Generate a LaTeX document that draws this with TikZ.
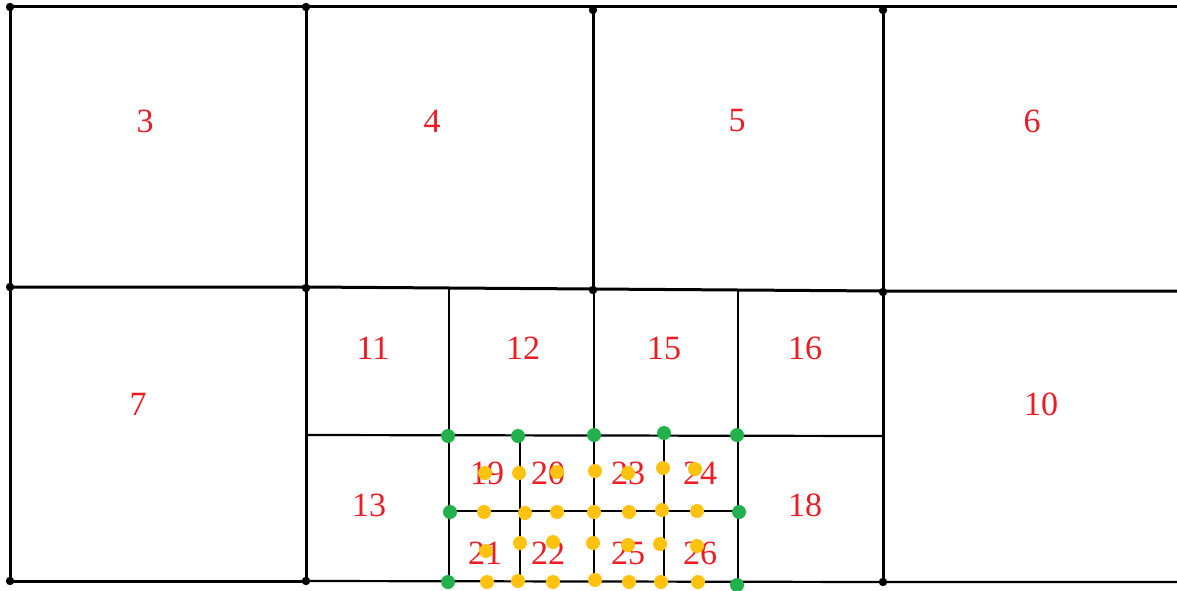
\documentclass[tikz,border=0pt]{standalone}
\usepackage{fontspec}
\setmainfont{Liberation Serif}
\definecolor{pred}{RGB}{237,28,36}
\definecolor{pgreen}{RGB}{34,177,76}
\definecolor{pyellow}{RGB}{255,194,14}
\begin{document}
\begin{tikzpicture}[x=1pt,y=-1pt,
  mainline/.style={line width=3pt,black},
  innerline/.style={line width=2.2pt,black},
  lbl/.style={text=pred,font=\fontsize{34}{40}\selectfont,inner sep=0pt},
  bdot/.style={fill=black},
  gdot/.style={fill=pgreen},
  ydot/.style={fill=pyellow}]
\useasboundingbox (0,0) rectangle (1177,591);
% main grid
\draw[mainline] (10,7) -- (1177,7);
\draw[mainline] (10,287) -- (306,287) -- (593,289) -- (883,291) -- (1177,291);
\draw[mainline] (10,581) -- (306,581);
\draw[innerline] (306,581) -- (883,582) -- (1177,582);
\draw[mainline] (10,7) -- (10,581);
\draw[mainline] (306,7) -- (306,581);
\draw[mainline] (593,10) -- (593,289);
\draw[mainline] (883,10) -- (883,582);
% middle lines
\draw[innerline] (306,435) -- (883,436);
\draw[innerline] (449,288) -- (449,582);
\draw[innerline] (738,290) -- (738,583);
\draw[innerline] (594,289) -- (594,582);
\draw[innerline] (520,435) -- (520,582);
\draw[innerline] (664,435) -- (664,582);
\draw[innerline] (449,511) -- (738,511);
% labels
\node[lbl] (n3) at (145,121) {3};
\node[lbl] (n4) at (432,121) {4};
\node[lbl] (n5) at (737,121) {5};
\node[lbl] (n6) at (1032,121) {6};
\node[lbl] (n7) at (138,404) {7};
\node[lbl] (n10) at (1041,404) {10};
\node[lbl] (n11) at (373,348) {11};
\node[lbl] (n12) at (523,348) {12};
\node[lbl] (n15) at (664,348) {15};
\node[lbl] (n16) at (805,348) {16};
\node[lbl] (n13) at (369,505) {13};
\node[lbl] (n18) at (805,505) {18};
\node[lbl] (n19) at (487,473) {19};
\node[lbl] (n20) at (548,473) {20};
\node[lbl] (n23) at (628,473) {23};
\node[lbl] (n24) at (700,473) {24};
\node[lbl] (n21) at (485,553) {21};
\node[lbl] (n22) at (548,553) {22};
\node[lbl] (n25) at (628,553) {25};
\node[lbl] (n26) at (700,553) {26};
% black corner dots
\foreach \p in {(10,7),(306,7),(593,10),(883,10),(10,287),(306,288),(593,290),(883,292),(10,581),(306,581),(883,582)}
  \fill[bdot] \p circle (4.2pt);
% yellow dots
\foreach \p in {(485,473),(519,473),(557,472),(595,471),(628,473),(663,468),(695,469),
                (484,512),(525,513),(557,512),(594,512),(629,512),(662,510),(697,511),
                (486,551),(520,543),(553,542),(593,543),(628,545),(660,544),(697,546),
                (487,582),(518,581),(553,582),(595,580),(629,582),(661,582),(698,582)}
  \fill[ydot] \p circle (7pt);
% green dots
\foreach \p in {(448,436),(518,436),(594,435),(664,433),(737,435),(450,512),(739,512),(448,582),(737,585)}
  \fill[gdot] \p circle (7pt);
\end{tikzpicture}
\end{document}
